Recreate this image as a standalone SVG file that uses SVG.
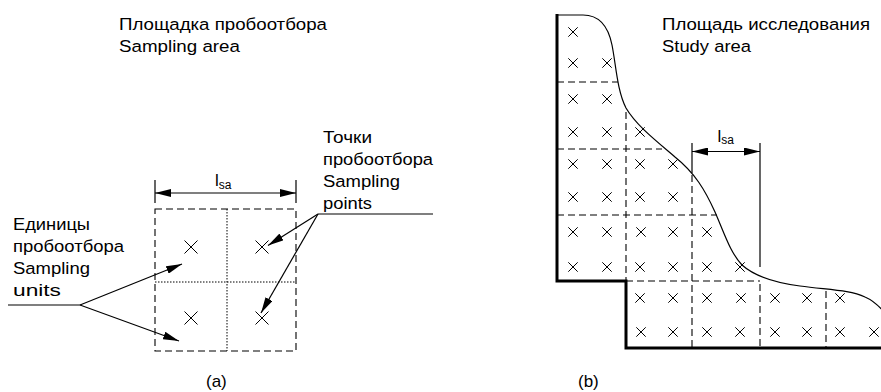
<svg xmlns="http://www.w3.org/2000/svg" width="881" height="392" viewBox="0 0 881 392">
<defs>
<style>
text{font-family:"Liberation Sans",Arial,sans-serif;font-size:16.3px;fill:#000}
.sub{font-size:12px}
.ln{stroke:#000;stroke-width:1.2;fill:none}
.thk{stroke:#000;stroke-width:3;fill:none}
.dash{stroke:#000;stroke-width:1.1;fill:none;stroke-dasharray:7 4}
.dot{stroke:#000;stroke-width:1;fill:none;stroke-dasharray:1.5 1.5}
.xa{stroke:#000;stroke-width:1;fill:none}
</style>
<marker id="ah" viewBox="0 0 16 8" refX="16" refY="4" markerWidth="16" markerHeight="8" markerUnits="userSpaceOnUse" orient="auto-start-reverse">
<path d="M0,0 L16,4 L0,8 z" fill="#000"/>
</marker>
<path id="xs" d="M-6.5,-6.5 L6.5,6.5 M-6.5,6.5 L6.5,-6.5" class="xa"/>
<path id="xb" d="M-4.7,-4.7 L4.7,4.7 M-4.7,4.7 L4.7,-4.7" class="xa"/>
</defs>
<rect width="881" height="392" fill="#fff"/>

<g id="label-sampling-area">
<text x="119" y="30" textLength="208" lengthAdjust="spacingAndGlyphs">Площадка пробоотбора</text>
<text x="119" y="52" textLength="121" lengthAdjust="spacingAndGlyphs">Sampling area</text>
</g>
<g id="label-study-area">
<text x="662" y="30" textLength="208" lengthAdjust="spacingAndGlyphs">Площадь исследования</text>
<text x="662" y="52" textLength="89" lengthAdjust="spacingAndGlyphs">Study area</text>
</g>
<g id="label-sampling-units">
<text x="13" y="230" textLength="77" lengthAdjust="spacingAndGlyphs">Единицы</text>
<text x="13" y="252" textLength="111" lengthAdjust="spacingAndGlyphs">пробоотбора</text>
<text x="13" y="274" textLength="77" lengthAdjust="spacingAndGlyphs">Sampling</text>
<text x="13" y="296" textLength="48" lengthAdjust="spacingAndGlyphs">units</text>
</g>
<g id="label-sampling-points">
<text x="323" y="143" textLength="49" lengthAdjust="spacingAndGlyphs">Точки</text>
<text x="323" y="165" textLength="110" lengthAdjust="spacingAndGlyphs">пробоотбора</text>
<text x="323" y="187" textLength="77" lengthAdjust="spacingAndGlyphs">Sampling</text>
<text x="323" y="209" textLength="49" lengthAdjust="spacingAndGlyphs">points</text>
</g>

<g id="panel-a">
<rect x="155" y="209" width="141" height="142" class="dash"/>
<line x1="227" y1="209" x2="227" y2="351" class="dot"/>
<line x1="155" y1="282" x2="296" y2="282" class="dot"/>
<use href="#xs" x="191" y="247"/>
<use href="#xs" x="262" y="247"/>
<use href="#xs" x="191" y="318"/>
<use href="#xs" x="262" y="318"/>
</g>

<g id="dimension-a">
<line x1="155" y1="180" x2="155" y2="203" class="ln"/>
<line x1="296" y1="180" x2="296" y2="203" class="ln"/>
<line x1="155" y1="193" x2="296" y2="193" class="ln" marker-start="url(#ah)" marker-end="url(#ah)"/>
<text x="215" y="185.5" style="font-size:17px">l<tspan class="sub" dy="3">sa</tspan></text>
</g>

<g id="panel-b">
<path d="M557,15 L583,15 C598,15 608,25 612,45 C616,65 617,90 626,108 C636,125 655,140 675,157 C695,173 705,190 715,212 C725,235 730,252 742,265 C752,274 770,282 800,286 C830,290 850,290 865,297 C872,300 878,305 884,312" class="ln"/>
<path d="M557,14 V281 H626 V348 H881" class="thk"/>
<line x1="557" y1="82" x2="618" y2="82" class="dash"/>
<line x1="557" y1="149" x2="662" y2="149" class="dash"/>
<line x1="557" y1="215" x2="717" y2="215" class="dash"/>
<line x1="626" y1="281" x2="760" y2="281" class="dash"/>
<line x1="626" y1="112" x2="626" y2="281" class="dash"/>
<line x1="692" y1="175" x2="692" y2="348" class="dash"/>
<line x1="760" y1="284" x2="760" y2="348" class="dash"/>
<line x1="826" y1="291" x2="826" y2="348" class="dash"/>
<use href="#xb" x="573" y="32"/>
<use href="#xb" x="573" y="63"/><use href="#xb" x="607" y="63"/>
<use href="#xb" x="573" y="99"/><use href="#xb" x="607" y="99"/>
<use href="#xb" x="573" y="132"/><use href="#xb" x="607" y="132"/><use href="#xb" x="640" y="132"/>
<use href="#xb" x="573" y="164"/><use href="#xb" x="607" y="164"/><use href="#xb" x="640" y="164"/><use href="#xb" x="673" y="164"/>
<use href="#xb" x="573" y="197"/><use href="#xb" x="607" y="197"/><use href="#xb" x="640" y="197"/><use href="#xb" x="673" y="197"/>
<use href="#xb" x="573" y="232"/><use href="#xb" x="607" y="232"/><use href="#xb" x="641" y="232"/><use href="#xb" x="673" y="232"/><use href="#xb" x="707" y="232"/>
<use href="#xb" x="573" y="267"/><use href="#xb" x="607" y="267"/><use href="#xb" x="640" y="267"/><use href="#xb" x="673" y="267"/><use href="#xb" x="707" y="267"/><use href="#xb" x="740" y="267"/>
<use href="#xb" x="640" y="298"/><use href="#xb" x="673" y="298"/><use href="#xb" x="707" y="298"/><use href="#xb" x="741" y="298"/><use href="#xb" x="775" y="298"/><use href="#xb" x="807" y="298"/><use href="#xb" x="840" y="298"/>
<use href="#xb" x="641" y="332"/><use href="#xb" x="673" y="332"/><use href="#xb" x="707" y="332"/><use href="#xb" x="740" y="332"/><use href="#xb" x="775" y="332"/><use href="#xb" x="807" y="332"/><use href="#xb" x="840" y="332"/><use href="#xb" x="874" y="332"/>
</g>

<g id="dimension-b">
<line x1="692" y1="143" x2="692" y2="173" class="ln"/>
<line x1="760" y1="143" x2="760" y2="267" class="ln"/>
<line x1="692" y1="151.5" x2="760" y2="151.5" class="ln" marker-start="url(#ah)" marker-end="url(#ah)"/>
<text x="717.5" y="141.5" style="font-size:17px">l<tspan class="sub" dy="2">sa</tspan></text>
</g>

<g id="connectors">
<polyline points="8,305 80,305" class="ln"/>
<line x1="80" y1="305" x2="182" y2="264" class="ln" marker-end="url(#ah)"/>
<line x1="80" y1="305" x2="179" y2="341" class="ln" marker-end="url(#ah)"/>
<polyline points="433,214 318,214" class="ln"/>
<line x1="318" y1="214" x2="268" y2="245.5" class="ln" marker-end="url(#ah)"/>
<line x1="318" y1="214" x2="261" y2="313" class="ln" marker-end="url(#ah)"/>
</g>

<g id="captions">
<text x="206" y="387" style="font-size:17px">(a)</text>
<text x="578" y="387" style="font-size:17px">(b)</text>
</g>
</svg>
